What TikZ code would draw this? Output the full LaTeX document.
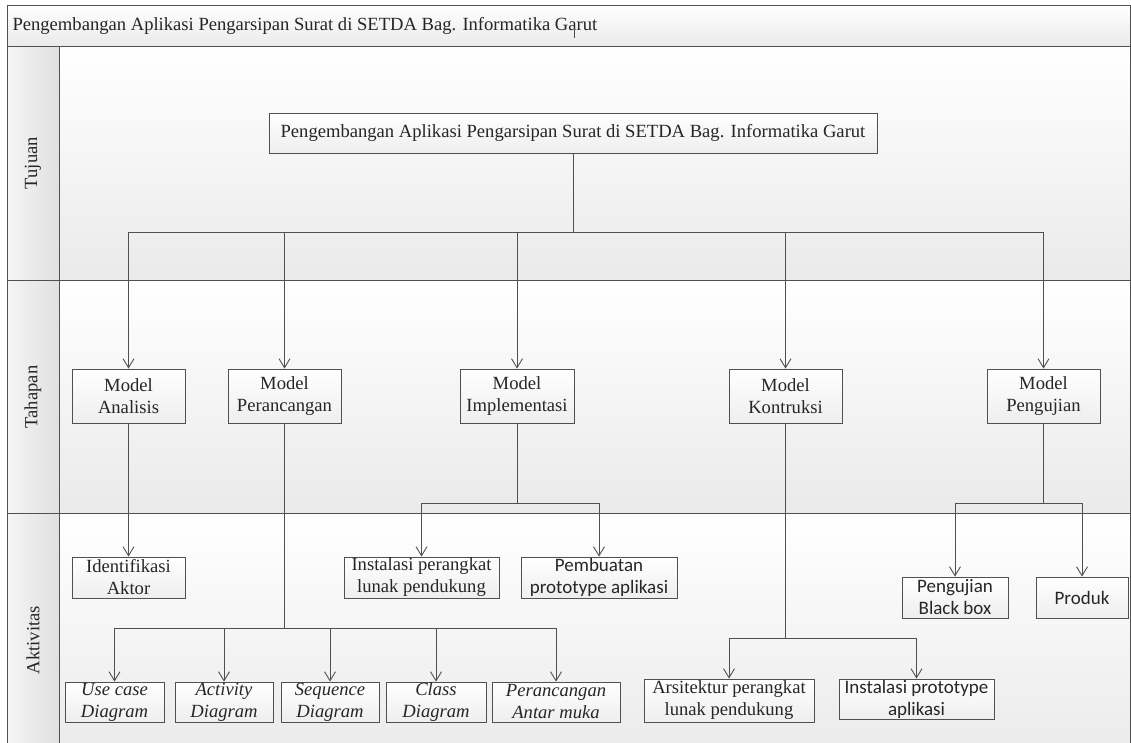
\documentclass[tikz,border=0pt]{standalone}
\usepackage{fontspec}
\setmainfont{Liberation Serif}
\newfontfamily\calfont{Carlito}
\usetikzlibrary{arrows.meta,positioning,shadows}
\definecolor{linegray}{HTML}{505050}
\definecolor{lanegray}{HTML}{EAEAEA}
\definecolor{boxgray}{HTML}{EEEEEE}

\begin{document}
\begin{tikzpicture}[x=1pt, y=-1pt,
	lane/.style={draw=linegray, line width=0.9pt, top color=white, bottom color=lanegray},
	side/.style={draw=linegray, line width=0.9pt, left color=white!96!black, right color=white!88!black},
	box/.style={draw=linegray, line width=0.9pt, top color=white, bottom color=boxgray, align=center, inner sep=0pt, text=black!85, font=\fontsize{18.6}{22}\selectfont, drop shadow={shadow xshift=1.2pt, shadow yshift=-1.2pt, fill=black!35}},
	sbox/.style={box, font=\calfont\fontsize{19}{22}\selectfont},
	ibox/.style={box, font=\itshape\fontsize{18.6}{22}\selectfont},
	edge/.style={draw=linegray, line width=0.9pt, -{Straight Barb[length=9pt,width=11pt]}},
	bus/.style={draw=linegray, line width=0.9pt}]
	\useasboundingbox (0,0) rectangle (1131,742);

	% Lanes
	\path[lane] (7,5) rectangle (1130,46);
	\path[lane] (7,46) rectangle (1130,280);
	\path[lane] (7,280) rectangle (1130,513);
	\path[lane] (7,513) rectangle (1130,760);
	\path[side] (7,46) rectangle (59,280);
	\path[side] (7,280) rectangle (59,513);
	\path[side] (7,513) rectangle (59,760);
	\node [anchor=west, text=black!85, font=\fontsize{18.6}{22}\selectfont] (judul) at (9,26) {Pengembangan Aplikasi Pengarsipan Surat di SETDA Bag. Informatika Garut};
	\node [rotate=90, text=black!85, font=\fontsize{18.6}{22}\selectfont] (tujuan) at (33,163) {Tujuan};
	\node [rotate=90, text=black!85, font=\fontsize{18.6}{22}\selectfont] (tahapan) at (33,397) {Tahapan};
	\node [rotate=90, text=black!85, font=\fontsize{18.6}{22}\selectfont] (aktivitas) at (33,640) {Aktivitas};
	\draw[bus] (574,28) -- (judul.south -| 574,0);

	% Place nodes
	\node [box, minimum width=608pt, minimum height=40pt] (pengembangan) at (573,133) {Pengembangan Aplikasi Pengarsipan Surat di SETDA Bag. Informatika Garut};

	\node [box, minimum width=113pt, minimum height=54pt] (analisis) at (128.5,396) {Model\\Analisis};
	\node [box, minimum width=113pt, minimum height=54pt] (perancangan) at (284.5,396) {Model\\Perancangan};
	\node [box, minimum width=114pt, minimum height=54pt] (implementasi) at (517,396) {Model\\Implementasi};
	\node [box, minimum width=113pt, minimum height=54pt] (kontruksi) at (785.5,396) {Model\\Kontruksi};
	\node [box, minimum width=113pt, minimum height=54pt] (pengujian) at (1043.5,396) {Model\\Pengujian};

	\node [box, minimum width=113pt, minimum height=41pt] (identifikasi) at (128.5,577.5) {Identifikasi\\Aktor};
	\node [box, minimum width=155pt, minimum height=41pt] (instalasi) at (421.5,577.5) {Instalasi perangkat\\lunak pendukung};
	\node [sbox, minimum width=156pt, minimum height=41pt] (pembuatan) at (599,577.5) {Pembuatan\\prototype aplikasi};
	\node [sbox, minimum width=106pt, minimum height=41pt] (blackbox) at (955,597.5) {Pengujian\\Black box};
	\node [sbox, minimum width=92pt, minimum height=41pt] (produk) at (1082,597.5) {Produk};

	\node [ibox, minimum width=99pt, minimum height=40pt] (usecase) at (114.5,702) {Use case\\Diagram};
	\node [ibox, minimum width=98pt, minimum height=40pt] (activity) at (224,702) {Activity\\Diagram};
	\node [ibox, minimum width=98pt, minimum height=40pt] (sequence) at (330,702) {Sequence\\Diagram};
	\node [ibox, minimum width=100pt, minimum height=40pt] (class) at (436,702) {Class\\Diagram};
	\node [ibox, minimum width=128pt, minimum height=40pt] (antarmuka) at (556,702) {Perancangan\\Antar muka};
	\node [box, minimum width=170pt, minimum height=43pt] (arsitektur) at (729,700.5) {Arsitektur perangkat\\lunak pendukung};
	\node [sbox, minimum width=155pt, minimum height=40pt] (prototipe) at (916.5,699) {Instalasi prototype\\aplikasi};

	% Draw edges
	\coordinate (bustujuan) at (0,232);
	\coordinate (busimpl) at (0,503);
	\coordinate (buspanc) at (0,628);
	\coordinate (buskons) at (0,638);
	\coordinate (busuji) at (0,503);
	\foreach \n in {analisis,perancangan,implementasi,kontruksi,pengujian}
		\draw [edge] (pengembangan.south) -- (pengembangan.south |- bustujuan) -| (\n.north);
	\draw [edge] (analisis) -- (identifikasi);
	\foreach \n in {instalasi,pembuatan}
		\draw [edge] (implementasi.south) -- (implementasi.south |- busimpl) -| (\n.north);
	\foreach \n in {usecase,activity,sequence,class,antarmuka}
		\draw [edge] (perancangan.south) -- (perancangan.south |- buspanc) -| (\n.north);
	\foreach \n in {arsitektur,prototipe}
		\draw [edge] (kontruksi.south) -- (kontruksi.south |- buskons) -| (\n.north);
	\foreach \n in {blackbox,produk}
		\draw [edge] (pengujian.south) -- (pengujian.south |- busuji) -| (\n.north);
\end{tikzpicture}
\end{document}
